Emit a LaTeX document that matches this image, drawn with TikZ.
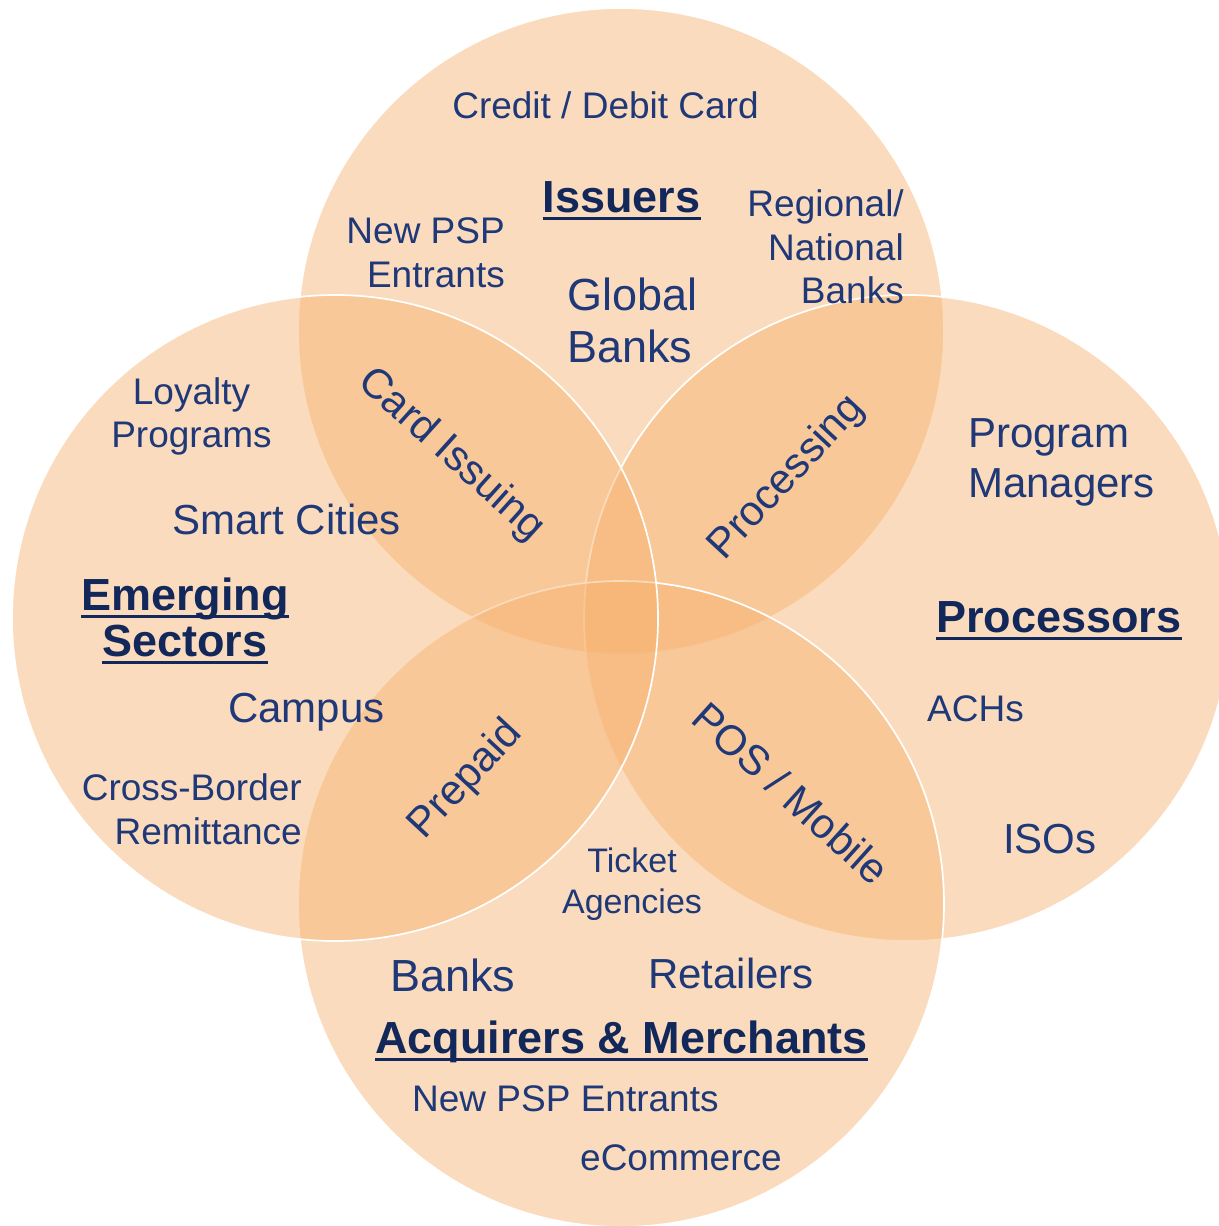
\documentclass[tikz,border=0pt]{standalone}
\usepackage{fontspec}
\setmainfont{Liberation Sans}
\definecolor{peach}{RGB}{245,176,108}
\definecolor{txt}{RGB}{31,56,120}
\definecolor{head}{RGB}{19,40,90}
\newcommand{\fs}[1]{\fontsize{#1}{#1}\selectfont}
\tikzset{
  circ/.style={fill=peach, fill opacity=0.45, draw=white, line width=1.7pt},
  lbl/.style={inner sep=0pt, text=txt},
  hd/.style={inner sep=0pt, text=head, font=\fs{45}\bfseries},
  ul/.style={draw=head, line width=3pt},
}
\begin{document}
\begin{tikzpicture}[x=1pt,y=-1pt]
\useasboundingbox (0,0) rectangle (1218,1226);
% circles (drawing order matters for the white outlines)
\draw[circ] (621,331) circle[radius=323pt];
\draw[circ] (907,618) circle[radius=323pt];
\draw[circ] (621,904) circle[radius=323pt];
\draw[circ] (335,618) circle[radius=323pt];

% Issuers circle
\node[lbl, font=\fs{37}, anchor=base] (cdc) at (605.5,118) {Credit / Debit Card};
\node[hd, anchor=base] (iss) at (621.5,212) {Issuers};
\draw[ul] ([yshift=-6.5pt]iss.base west) -- ([yshift=-6.5pt]iss.base east);
\node[lbl, font=\fs{37}, anchor=base east] (np1) at (505,243) {New PSP};
\node[lbl, font=\fs{37}, anchor=base east] (np2) at (505,287) {Entrants};
\node[lbl, font=\fs{37}, anchor=base east] (rg1) at (904,216) {Regional/};
\node[lbl, font=\fs{37}, anchor=base east] (rg2) at (904,260) {National};
\node[lbl, font=\fs{37}, anchor=base east] (rg3) at (904,303) {Banks};
\node[lbl, font=\fs{45}, anchor=base west] (gb1) at (567,310) {Global};
\node[lbl, font=\fs{45}, anchor=base west] (gb2) at (567,362) {Banks};

% Emerging sectors circle
\node[lbl, font=\fs{37}, anchor=base] (lp1) at (191.5,404) {Loyalty};
\node[lbl, font=\fs{37}, anchor=base] (lp2) at (191.5,447) {Programs};
\node[lbl, font=\fs{42}, anchor=base west] (sc) at (172,534) {Smart Cities};
\node[hd, anchor=base] (em1) at (185,610) {Emerging};
\draw[ul] ([yshift=-6.5pt]em1.base west) -- ([yshift=-6.5pt]em1.base east);
\node[hd, anchor=base] (em2) at (185,656) {Sectors};
\draw[ul] ([yshift=-6.5pt]em2.base west) -- ([yshift=-6.5pt]em2.base east);
\node[lbl, font=\fs{42}, anchor=base west] (cam) at (228,722) {Campus};
\node[lbl, font=\fs{37}, anchor=base east] (cb1) at (302,800) {Cross-Border};
\node[lbl, font=\fs{37}, anchor=base east] (cb2) at (302,844) {Remittance};

% Processors circle
\node[lbl, font=\fs{42}, anchor=base west] (pm1) at (968,447) {Program};
\node[lbl, font=\fs{42}, anchor=base west] (pm2) at (968,497) {Managers};
\node[hd, anchor=base west] (pro) at (936,632) {Processors};
\draw[ul] ([yshift=-6.5pt]pro.base west) -- ([yshift=-6.5pt]pro.base east);
\node[lbl, font=\fs{37}, anchor=base west] (ach) at (927,721) {ACHs};
\node[lbl, font=\fs{42}, anchor=base west] (iso) at (1003,853) {ISOs};

% Acquirers circle
\node[lbl, font=\fs{34}, anchor=base] (ta1) at (632,872) {Ticket};
\node[lbl, font=\fs{34}, anchor=base] (ta2) at (632,913) {Agencies};
\node[lbl, font=\fs{45}, anchor=base west] (bk) at (390,991) {Banks};
\node[lbl, font=\fs{42}, anchor=base west] (ret) at (648,988) {Retailers};
\node[hd, anchor=base west] (acq) at (375,1053) {Acquirers \& Merchants};
\draw[ul] ([yshift=-6.5pt]acq.base west) -- ([yshift=-6.5pt]acq.base east);
\node[lbl, font=\fs{37}, anchor=base west] (npe) at (412,1111) {New PSP Entrants};
\node[lbl, font=\fs{37}, anchor=base west] (ecom) at (580,1170) {eCommerce};

% overlap labels
\node[lbl, font=\fs{42}, rotate=-42] (ci) at (451,455) {Card Issuing};
\node[lbl, font=\fs{42}, rotate=47] (prc) at (787,478) {Processing};
\node[lbl, font=\fs{42}, rotate=47] (pre) at (466,780) {Prepaid};
\node[lbl, font=\fs{42}, rotate=-42] (pos) at (791,793) {POS / Mobile};
\end{tikzpicture}
\end{document}
